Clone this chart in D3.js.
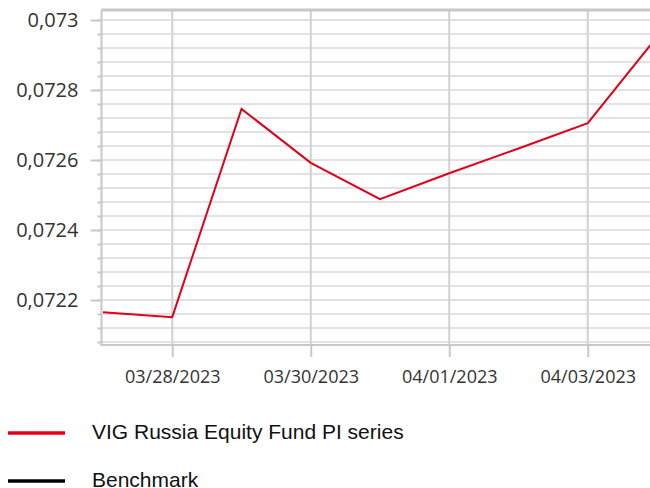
<!DOCTYPE html>
<html>
<head>
<meta charset="utf-8">
<script src="https://cdn.jsdelivr.net/npm/d3@7"></script>
<style>
  html, body { margin: 0; padding: 0; background: #fff; }
  svg { display: block; }
  .axis-label { font-family: "Open Sans", sans-serif; font-size: 18px; fill: #333; }
  .y-label { font-size: 20px; }
  .legend-label { font-family: "Liberation Sans", Arial, sans-serif; font-size: 21px; fill: #111; }
</style>
</head>
<body>
<figure id="chart" style="margin:0"></figure>
<script>
// data
const dates = ["2023-03-27", "2023-03-28", "2023-03-29", "2023-03-30", "2023-03-31",
               "2023-04-01", "2023-04-02", "2023-04-03", "2023-04-04"];
const fundValues = [0.072165, 0.072151, 0.072746, 0.072592, 0.072488,
                    0.072562, 0.072633, 0.072705, 0.072952];
const xTickDates = ["2023-03-28", "2023-03-30", "2023-04-01", "2023-04-03"];
const xTickLabels = ["03/28/2023", "03/30/2023", "04/01/2023", "04/03/2023"];
const yTickValues = [0.0722, 0.0724, 0.0726, 0.0728, 0.073];
const yTickLabels = ["0,0722", "0,0724", "0,0726", "0,0728", "0,073"];
const yMinorStep = 0.00004;
const seriesNames = ["VIG Russia Equity Fund PI series", "Benchmark"];
const seriesColors = ["#e2001a", "#000000"];

const width = 650;
const height = 488;
const parse = d3.timeParse("%Y-%m-%d");

const svg = d3.select("figure#chart")
  .append("svg")
  .attr("width", width)
  .attr("height", height);

const x = d3.scaleTime()
  .domain([parse(dates[0]), parse(dates[dates.length - 1])])
  .range([103, 657]);

const y = d3.scaleLinear()
  .domain([0.0722 - 45 / 350000, 0.073 + 10 / 350000])
  .range([345, 10]);

const plotTop = y.range()[1];
const plotBottom = y.range()[0];
const plotLeft = x.range()[0] - 1.5;

// horizontal grid (every minor step)
const gridValues = d3.range(0, 24).map(i => 0.07208 + i * yMinorStep);
svg.append("g")
  .selectAll("line")
  .data(gridValues)
  .enter()
  .append("line")
  .attr("x1", plotLeft)
  .attr("x2", width)
  .attr("y1", d => y(d))
  .attr("y2", d => y(d))
  .attr("stroke", "#d9d9d9")
  .attr("stroke-width", 1.6);

// vertical grid at labelled dates
svg.append("g")
  .selectAll("line")
  .data(xTickDates)
  .enter()
  .append("line")
  .attr("x1", d => x(parse(d)))
  .attr("x2", d => x(parse(d)))
  .attr("y1", plotTop)
  .attr("y2", plotBottom)
  .attr("stroke", "#d0d0d0")
  .attr("stroke-width", 2);

// top border
svg.append("line")
  .attr("x1", plotLeft)
  .attr("x2", width)
  .attr("y1", plotTop)
  .attr("y2", plotTop)
  .attr("stroke", "#c8c8c8")
  .attr("stroke-width", 3);

// y axis: minor ticks then major ticks with labels
const yMinor = svg.append("g")
  .attr("transform", "translate(" + plotLeft + ",0)")
  .call(d3.axisLeft(y).tickValues(gridValues).tickSize(4).tickFormat(""));
yMinor.select(".domain").remove();
yMinor.selectAll("line").attr("stroke", "#c8c8c8").attr("stroke-width", 2);

const yMajor = svg.append("g")
  .attr("transform", "translate(" + plotLeft + ",0)")
  .call(d3.axisLeft(y).tickValues(yTickValues).tickSize(11).tickPadding(12)
    .tickFormat((d, i) => yTickLabels[i]));
yMajor.select(".domain").remove();
yMajor.selectAll("line").attr("stroke", "#c8c8c8").attr("stroke-width", 2);
yMajor.selectAll("text").attr("class", "axis-label y-label").attr("fill", null);

svg.append("line")
  .attr("x1", plotLeft)
  .attr("x2", plotLeft)
  .attr("y1", plotTop)
  .attr("y2", plotBottom + 1)
  .attr("stroke", "#c8c8c8")
  .attr("stroke-width", 2);

// x axis
const xAxis = svg.append("g")
  .attr("transform", "translate(0," + plotBottom + ")")
  .call(d3.axisBottom(x).tickValues(xTickDates.map(parse)).tickSize(12).tickPadding(13)
    .tickFormat((d, i) => xTickLabels[i]));
xAxis.select(".domain").remove();
xAxis.selectAll("line").attr("stroke", "#c8c8c8").attr("stroke-width", 2);
xAxis.selectAll("text").attr("class", "axis-label").attr("fill", null);

svg.append("line")
  .attr("x1", plotLeft - 1)
  .attr("x2", width)
  .attr("y1", plotBottom)
  .attr("y2", plotBottom)
  .attr("stroke", "#c8c8c8")
  .attr("stroke-width", 2);

// fund line
const line = d3.line()
  .x((d, i) => x(parse(dates[i])))
  .y(d => y(d));

svg.append("path")
  .datum(fundValues)
  .attr("fill", "none")
  .attr("stroke", seriesColors[0])
  .attr("stroke-width", 2)
  .attr("stroke-linejoin", "miter")
  .attr("d", line);

// legend
const legend = svg.append("g")
  .selectAll("g")
  .data(seriesNames)
  .enter()
  .append("g")
  .attr("transform", (d, i) => "translate(0," + (433 + i * 48) + ")");

legend.append("line")
  .attr("x1", 8)
  .attr("x2", 65)
  .attr("stroke", (d, i) => seriesColors[i])
  .attr("stroke-width", 3.5);

legend.append("text")
  .attr("class", "legend-label")
  .attr("x", 92)
  .attr("y", 6)
  .text(d => d);
</script>
</body>
</html>
